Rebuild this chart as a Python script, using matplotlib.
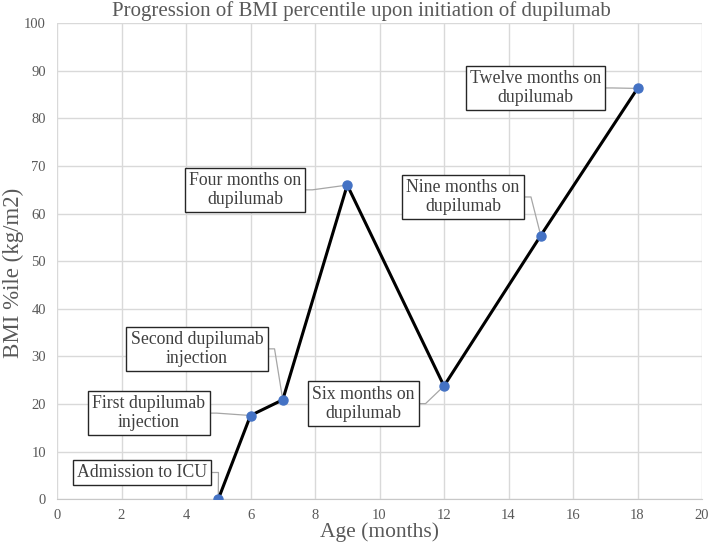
import numpy as np
import matplotlib
matplotlib.use('Agg')
import matplotlib.pyplot as plt

plt.rcParams['font.family'] = ['Liberation Serif', 'DejaVu Serif']

# data
age = [5, 6, 7, 9, 12, 15, 18]
bmi_pct = [0, 17.6, 20.9, 66.0, 23.8, 55.4, 86.3]
labels = ['Admission to ICU', 'First dupilumab\ninjection', 'Second dupilumab\ninjection',
          'Four months on\ndupilumab', 'Six months on\ndupilumab', 'Nine months on\ndupilumab',
          'Twelve months on\ndupilumab']
# label box centres (data coords)
label_x = [2.64, 2.85, 4.34, 5.83, 9.49, 12.59, 14.84]
label_y = [5.63, 18.1, 31.6, 65.0, 20.1, 63.5, 86.4]

grey = '#595959'

fig = plt.figure(figsize=(7.11, 5.45), dpi=100)
ax = fig.add_axes([57 / 711, (545 - 499.3) / 545, (702 - 57) / 711, (499.3 - 23.2) / 545])

ax.plot(age, bmi_pct, color='black', lw=2.2, zorder=3)
ax.plot(age, bmi_pct, 'o', color='#4472C4', ms=6.5, zorder=4)

anns = []
for lab, tx, ty in zip(labels, label_x, label_y):
    a = ax.text(tx, ty, lab, ha='center', va='center', fontsize=12.8, color='#404040',
                linespacing=1.15, zorder=5,
                bbox=dict(boxstyle='square,pad=0.24', fc='white', ec='#262626', lw=1))
    anns.append(a)

ax.set_xlim(0, 20)
ax.set_ylim(0, 100)
ax.set_xticks(np.arange(0, 21, 2))
ax.set_yticks(np.arange(0, 101, 10))
ax.grid(True, color='#d9d9d9', lw=1)
ax.set_axisbelow(True)
for s in ['left', 'right', 'top']:
    ax.spines[s].set_visible(False)
ax.spines['bottom'].set_color('#c8c8c8')
ax.tick_params(length=0, labelsize=10.5, labelcolor=grey)
ax.tick_params(axis='y', pad=8)
ax.tick_params(axis='x', pad=7)

fig.text(361.5 / 711, 1 - 11 / 545, 'Progression of BMI percentile upon initiation of dupilumab',
         fontsize=15, color=grey, ha='center', va='center')
ax.set_xlabel('Age (months)', fontsize=15.5, color=grey, labelpad=0)
ax.set_ylabel('BMI %ile (kg/m2)', fontsize=16.5, color=grey, va='center')
ax.yaxis.set_label_coords(-0.068, 0.476)

# leader lines: short horizontal stub from box right edge, then to the point
fig.canvas.draw()
r = fig.canvas.get_renderer()
inv = ax.transData.inverted()
for a, px, py in zip(anns, age, bmi_pct):
    bb = a.get_bbox_patch().get_window_extent(r)
    ymid = (bb.y0 + bb.y1) / 2
    pts = inv.transform([(bb.x1, ymid), (bb.x1 + 7, ymid)])
    ax.plot([pts[0][0], pts[1][0], px], [pts[0][1], pts[1][1], py],
            color='#a6a6a6', lw=0.9, zorder=2.5, clip_on=False)

fig.savefig('out.png', dpi=100)
